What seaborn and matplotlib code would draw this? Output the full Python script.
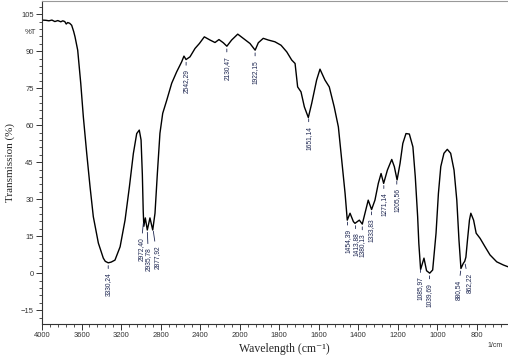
import numpy as np
import pandas as pd
import matplotlib
matplotlib.use('Agg')
import matplotlib.pyplot as plt
import matplotlib.ticker as mticker
import matplotlib.transforms as mtransforms
import seaborn as sns

# Spectrum (wavenumber in 1/cm, transmission in %T)
wavenumber = [
    4000, 3960, 3930, 3900, 3870, 3840, 3810, 3790, 3770, 3755, 3740, 3720,
    3700, 3680, 3666, 3650, 3639, 3620, 3608, 3582, 3548, 3514, 3481, 3430,
    3380, 3360, 3330, 3300, 3262, 3210, 3160, 3116, 3076, 3042, 3016, 2998,
    2985, 2976, 2970, 2955, 2935, 2908, 2880, 2857, 2833, 2807, 2779, 2739,
    2688, 2638, 2587, 2564, 2543, 2503, 2452, 2408, 2358, 2300, 2250, 2210,
    2166, 2130, 2082, 2020, 1982, 1948, 1922, 1906, 1881, 1855, 1822, 1791,
    1762, 1737, 1720, 1707, 1690, 1673, 1653, 1636, 1611, 1594, 1569, 1547,
    1522, 1501, 1484, 1467, 1456, 1442, 1425, 1417, 1395, 1380, 1358, 1350,
    1333, 1316, 1299, 1285, 1272, 1253, 1231, 1218, 1204, 1189, 1175, 1159,
    1142, 1124, 1112, 1100, 1094, 1085, 1068, 1055, 1039, 1024, 1007, 995,
    983, 967, 950, 933, 916, 902, 891, 881, 869, 862, 856, 848, 838, 831,
    817, 804, 784, 759, 734, 700, 666, 643,
]
transmission = [
    102.6, 102.5, 102.3, 102.6, 102.0, 102.4, 101.9, 102.3, 102.0, 101.0, 101.6, 101.3,
    100.5, 98.0, 95.8, 92.5, 90.4, 82.0, 76.9, 63.4, 48.7, 35.0, 22.9, 12.2,
    6.1, 4.8, 4.2, 4.5, 5.3, 10.7, 21.5, 35.0, 48.5, 56.6, 58.0, 54.0,
    40.0, 25.0, 19.0, 22.4, 17.5, 22.4, 17.5, 24.3, 40.5, 56.7, 64.8, 70.0,
    77.0, 81.6, 85.7, 88.0, 86.6, 87.7, 91.1, 93.1, 95.8, 94.5, 93.5, 94.7,
    93.4, 92.0, 94.5, 96.9, 95.2, 93.1, 90.4, 93.4, 95.2, 94.5, 93.8, 92.4,
    89.7, 86.4, 85.0, 75.5, 73.5, 67.4, 63.1, 68.8, 78.3, 82.7, 78.3, 75.5,
    67.4, 59.3, 45.8, 32.3, 21.5, 24.3, 20.9, 20.2, 21.5, 19.9, 26.9, 29.6,
    25.8, 29.6, 36.4, 40.4, 36.4, 41.8, 46.1, 43.2, 37.8, 44.5, 52.6, 56.6,
    56.4, 51.2, 39.1, 22.9, 12.0, 1.5, 6.1, 1.0, 0.0, 1.3, 16.2, 32.3,
    43.2, 48.6, 50.2, 48.6, 41.8, 29.6, 13.4, 1.9, 4.0, 4.8, 6.5, 13.4, 21.5, 24.3,
    21.5, 16.2, 14.1, 10.7, 7.4, 4.6, 3.3, 2.6,
]

# Peak labels as printed by the instrument software
peak_positions = [3330.24, 2972.40, 2935.78, 2877.92, 2542.29, 2130.47, 1922.15,
                  1651.14, 1454.39, 1413.88, 1380.13, 1333.83, 1271.14, 1205.56,
                  1085.97, 1039.69, 880.54, 862.22]
peak_labels = ['3330,24', '2972,40', '2935,78', '2877,92', '2542,29', '2130,47', '1922,15',
               '1651,14', '1454,39', '1413,88', '1380,13', '1333,83', '1271,14', '1205,56',
               '1085,97', '1039,69', '880,54', '862,22']

x_major = [4000, 3600, 3200, 2800, 2400, 2000, 1800, 1600, 1400, 1200, 1000, 800]
y_major = [-15, 0, 15, 30, 45, 60, 75, 90, 105]

# label leader offsets (points): dx, dy
label_offsets = {'2972,40': (-2, -12), '2935,78': (1, -13), '2877,92': (3, -12),
                 '880,54': (-2, -8), '862,22': (3, -8)}


def fwd(x):
    # Shimadzu style axis: 4000-2000 at half the scale of 2000-400
    x = np.asarray(x, dtype=float)
    return np.where(x > 2000, 2000 + (x - 2000) / 2.0, x)


def inv(t):
    t = np.asarray(t, dtype=float)
    return np.where(t > 2000, 2000 + (t - 2000) * 2.0, t)


sns.set_style('ticks')
plt.rcParams['font.family'] = ['Liberation Sans', 'DejaVu Sans']

df = pd.DataFrame({'wn': wavenumber, 'T': transmission})

fig = plt.figure(figsize=(5.08, 3.59), dpi=100)
ax = fig.add_axes([0.0827, 0.0975, 0.9173, 0.8995])

sns.lineplot(data=df, x='wn', y='T', ax=ax, color='black', lw=1.0, sort=False)

ax.set_xscale('function', functions=(fwd, inv))
ax.set_xlim(4000, 643)
ax.set_ylim(-20.6, 110.3)

ax.xaxis.set_major_locator(mticker.FixedLocator(x_major))
ax.xaxis.set_major_formatter(mticker.FixedFormatter([str(v) for v in x_major]))
minor_x = list(np.arange(4000, 2000, -80)) + list(np.arange(2000, 640, -40))
ax.xaxis.set_minor_locator(mticker.FixedLocator(minor_x))
ax.yaxis.set_major_locator(mticker.FixedLocator(y_major))
ax.yaxis.set_minor_locator(mticker.MultipleLocator(3))

ax.tick_params(which='major', direction='out', length=4, width=0.7,
               labelsize=5.5, labelcolor='#333333', color='#333333', pad=2)
ax.tick_params(which='minor', direction='out', length=2, width=0.6, color='#333333')

for side in ['left', 'bottom']:
    ax.spines[side].set_color('#333333')
    ax.spines[side].set_linewidth(0.8)
ax.spines['top'].set_color('#999999')
ax.spines['top'].set_linewidth(0.8)
ax.spines['right'].set_visible(False)

ax.set_xlabel('Wavelength (cm\u207b\u00b9)', family=['Liberation Serif', 'DejaVu Serif'],
              fontsize=8.5)
ax.set_ylabel('Transmission (%)', family='Liberation Serif', fontsize=8, labelpad=4)
ax.xaxis.set_label_coords(0.52, -0.058)

# %T and 1/cm unit marks
trans = mtransforms.blended_transform_factory(ax.transAxes, ax.transData)
ax.text(-0.012, 97.5, '%T', transform=trans, ha='right', va='center',
        fontsize=5.5, color='#333333')
ax.text(0.972, -0.068, '1/cm', transform=ax.transAxes, ha='center', va='center',
        fontsize=5, color='#333333')

# peak annotations
wn_sorted = np.array(wavenumber)[::-1]
t_sorted = np.array(transmission)[::-1]
for pos, lab in zip(peak_positions, peak_labels):
    yv = np.interp(pos, wn_sorted, t_sorted)
    dx, dy = label_offsets.get(lab, (0, -7))
    ax.annotate(lab, xy=(pos, yv), xytext=(dx, dy), textcoords='offset points',
                rotation=90, ha='center', va='top', fontsize=4.8, color='#1c2550',
                arrowprops=dict(arrowstyle='-', lw=0.6, color='#1c2550',
                                shrinkA=0.5, shrinkB=2))

fig.savefig('out.png', dpi=100)
